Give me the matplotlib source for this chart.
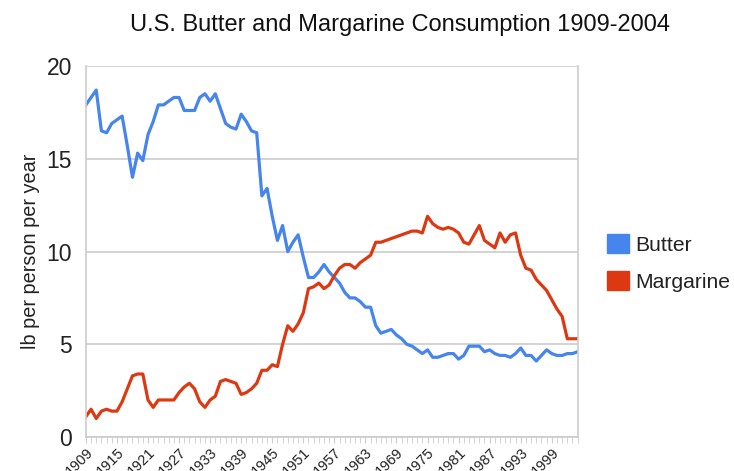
import matplotlib
matplotlib.use('Agg')
from matplotlib import pyplot as plt
from matplotlib.patches import Patch

plt.rcParams['font.family'] = ['Liberation Sans', 'DejaVu Sans']

years = list(range(1909, 2005))

# lb per person per year
butter = [17.9, 18.3, 18.7, 16.5, 16.4, 16.9, 17.1, 17.3, 15.7, 14.0,
          15.3, 14.9, 16.3, 17.0, 17.9, 17.9, 18.1, 18.3, 18.3, 17.6,
          17.6, 17.6, 18.3, 18.5, 18.1, 18.5, 17.7, 16.9, 16.7, 16.6,
          17.4, 17.0, 16.5, 16.4, 13.0, 13.4, 11.9, 10.6, 11.4, 10.0,
          10.5, 10.9, 9.7, 8.6, 8.6, 8.9, 9.3, 8.9, 8.6, 8.3,
          7.8, 7.5, 7.5, 7.3, 7.0, 7.0, 6.0, 5.6, 5.7, 5.8,
          5.5, 5.3, 5.0, 4.9, 4.7, 4.5, 4.7, 4.3, 4.3, 4.4,
          4.5, 4.5, 4.2, 4.4, 4.9, 4.9, 4.9, 4.6, 4.7, 4.5,
          4.4, 4.4, 4.3, 4.5, 4.8, 4.4, 4.4, 4.1, 4.4, 4.7,
          4.5, 4.4, 4.4, 4.5, 4.5, 4.6]
margarine = [1.1, 1.5, 1.0, 1.4, 1.5, 1.4, 1.4, 1.9, 2.6, 3.3,
             3.4, 3.4, 2.0, 1.6, 2.0, 2.0, 2.0, 2.0, 2.4, 2.7,
             2.9, 2.6, 1.9, 1.6, 2.0, 2.2, 3.0, 3.1, 3.0, 2.9,
             2.3, 2.4, 2.6, 2.9, 3.6, 3.6, 3.9, 3.8, 5.0, 6.0,
             5.7, 6.1, 6.7, 8.0, 8.1, 8.3, 8.0, 8.2, 8.7, 9.1,
             9.3, 9.3, 9.1, 9.4, 9.6, 9.8, 10.5, 10.5, 10.6, 10.7,
             10.8, 10.9, 11.0, 11.1, 11.1, 11.0, 11.9, 11.5, 11.3, 11.2,
             11.3, 11.2, 11.0, 10.5, 10.4, 10.9, 11.4, 10.6, 10.4, 10.2,
             11.0, 10.5, 10.9, 11.0, 9.8, 9.1, 9.0, 8.5, 8.2, 7.9,
             7.4, 6.9, 6.5, 5.3, 5.3, 5.3]
tick_years = list(range(1909, 2000, 6))

fig = plt.figure(figsize=(7.34, 4.71), dpi=100)
ax = fig.add_axes([0.117, 0.072, 0.670, 0.788])

ax.plot(years, butter, color='#4684ee', lw=2.3, solid_joinstyle='round')
ax.plot(years, margarine, color='#dc3912', lw=2.3, solid_joinstyle='round')

ax.set_xlim(1909, 2004)
ax.set_ylim(0, 20)
ax.set_yticks([0, 5, 10, 15, 20])
ax.set_xticks(tick_years)
ax.set_xticks(years, minor=True)
ax.set_xticklabels([str(y) for y in tick_years], rotation=45, ha='right',
                   rotation_mode='anchor', fontsize=10.5, color='#222222')
ax.tick_params(axis='y', length=0, labelsize=16.5, colors='#222222', pad=10)
ax.tick_params(axis='x', which='major', length=4, color='#cccccc', pad=2)
ax.tick_params(axis='x', which='minor', length=4, color='#cccccc')
ax.grid(axis='y', color='#cccccc', lw=1.2)
ax.set_axisbelow(True)
for s in ax.spines.values():
    s.set_color('#cccccc')
    s.set_linewidth(1.2)
ax.spines['top'].set_visible(False)

ax.set_ylabel('lb per person per year', fontsize=14.3, color='#222222', labelpad=5)
fig.text(0.545, 0.947, 'U.S. Butter and Margarine Consumption 1909-2004',
         ha='center', va='center', fontsize=17, color='#111111')

ax.legend(handles=[Patch(color='#4684ee', label='Butter'),
                   Patch(color='#dc3912', label='Margarine')],
          loc='center left', bbox_to_anchor=(1.022, 0.469), frameon=False,
          fontsize=15.2, handlelength=1.0, handleheight=1.0, handletextpad=0.3,
          labelspacing=0.78, labelcolor='#222222')

fig.savefig('out.png', dpi=100)
